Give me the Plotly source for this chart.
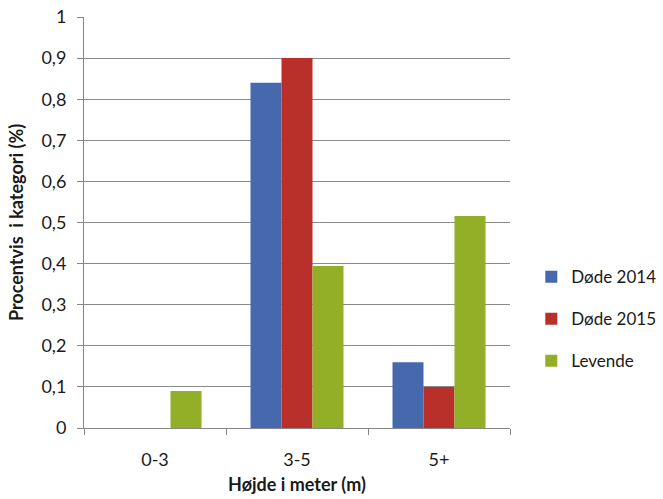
import plotly.graph_objects as go

categories = ["0-3", "3-5", "5+"]
doede_2014 = [0, 0.84, 0.16]
doede_2015 = [0, 0.90, 0.10]
levende = [0.09, 0.394, 0.516]
series_names = ["Døde 2014", "Døde 2015", "Levende"]
colors = ["#4669AE", "#B9302A", "#93AE27"]

fig = go.Figure()
for i, (name, vals, col) in enumerate(zip(series_names, [doede_2014, doede_2015, levende], colors)):
    fig.add_trace(go.Bar(x=categories, y=vals, name=name, marker=dict(color=col, line=dict(width=0)),
                         legendgroup=f"g{i}"))

font_fam = "Lato, Carlito, 'Open Sans', sans-serif"
fig.update_layout(
    width=663, height=499,
    margin=dict(l=84, r=153, t=17, b=71, autoexpand=False),
    plot_bgcolor="white", paper_bgcolor="white",
    separators=", ",
    barmode="group", bargap=0.345, bargroupgap=0,
    font=dict(family=font_fam, size=18, color="#1a1a1a"),
    legend=dict(x=1.05, xanchor="left", y=0.265, yanchor="middle", tracegroupgap=17,
                font=dict(size=17), itemwidth=30, bgcolor="rgba(0,0,0,0)"),
    showlegend=True,
)
fig.update_xaxes(
    automargin=False,
    showline=True, linecolor="#868686", linewidth=1,
    ticks="outside", tickson="boundaries", ticklen=6, tickcolor="#868686",
    ticklabelstandoff=15,
    title=dict(text="<b>Højde i meter (m)</b>", font=dict(size=18), standoff=9),
    tickfont=dict(size=18),
)
fig.update_yaxes(
    automargin=False,
    range=[0, 1], dtick=0.1, tick0=0,
    showgrid=True, gridcolor="#8A8A8A", gridwidth=1,
    showline=True, linecolor="#868686", linewidth=1,
    ticks="outside", ticklen=6, tickcolor="#868686",
    zeroline=False,
    ticklabelstandoff=7, ticklabeloverflow="allow",
    title=dict(text="<b>Procentvis  i kategori (%)</b>", font=dict(size=18), standoff=13),
    tickfont=dict(size=18),
)
fig.write_html("out.html", config={"displayModeBar": False},
               post_script="document.body.style.margin='0';document.body.style.overflow='hidden';")
